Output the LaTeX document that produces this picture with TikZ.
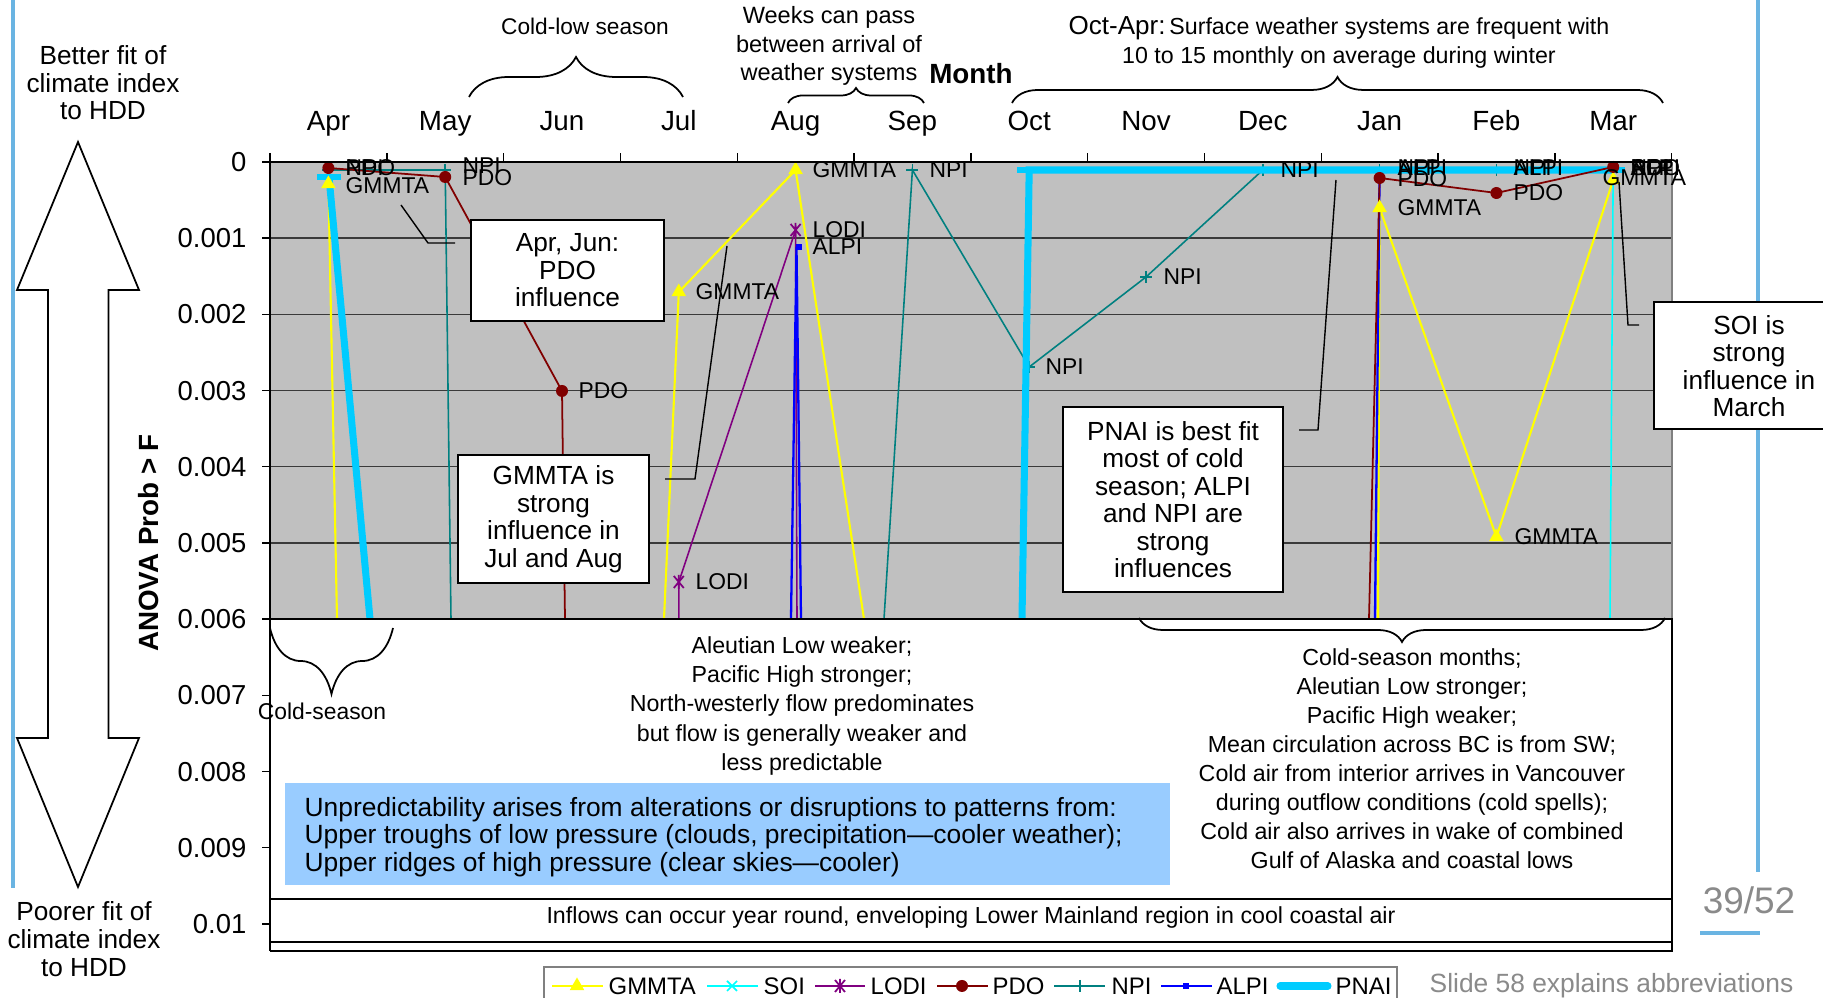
\documentclass[tikz,border=0pt]{standalone}
\usepackage{fontspec}
\setmainfont{Liberation Sans}
\usetikzlibrary{decorations.pathreplacing,shapes.geometric}
\definecolor{plotgray}{HTML}{C0C0C0}
\definecolor{gridc}{HTML}{3A3A3A}
\definecolor{gyel}{HTML}{FFFF00}
\definecolor{soic}{HTML}{00FFFF}
\definecolor{lodic}{HTML}{800080}
\definecolor{pdoc}{HTML}{800000}
\definecolor{npic}{HTML}{008080}
\definecolor{alpic}{HTML}{0000FF}
\definecolor{pnaic}{HTML}{00CCFF}
\definecolor{boxblue}{HTML}{99CCFF}
\definecolor{slideblue}{HTML}{6AB4E2}
\definecolor{greytext}{HTML}{8A8A8A}
\tikzset{
  dlab/.style={anchor=west, inner sep=0pt, font=\fontsize{6.5}{7}\selectfont},
  boxtxt/.style={draw=black, fill=white, line width=0.6pt, align=center, inner sep=0pt, font=\fontsize{7.45}{7.82}\selectfont},
  plaintxt/.style={align=center, inner sep=0pt, font=\fontsize{6.6}{8.25}\selectfont},
  monthlab/.style={anchor=base, inner sep=0pt, font=\fontsize{7.9}{9}\selectfont},
  ticklab/.style={anchor=east, inner sep=0pt, font=\fontsize{7.8}{9}\selectfont},
  leglab/.style={anchor=west, inner sep=0pt, font=\fontsize{6.8}{8}\selectfont},
  callout/.style={draw=black, line width=0.4pt},
  gline/.style={draw=gyel, line width=0.6pt},
  sline/.style={draw=soic, line width=0.45pt},
  lline/.style={draw=lodic, line width=0.45pt},
  pline/.style={draw=pdoc, line width=0.5pt},
  nline/.style={draw=npic, line width=0.45pt},
  aline/.style={draw=alpic, line width=0.65pt},
  qline/.style={draw=pnaic, line width=2pt},
  trimark/.style={regular polygon, regular polygon sides=3, fill=gyel, inner sep=0pt, minimum size=0.17cm},
  dotmark/.style={circle, fill=pdoc, inner sep=0pt, minimum size=0.12cm},
  sqmark/.style={rectangle, fill=alpic, inner sep=0pt, minimum size=0.06cm},
  plusmark/.pic={\draw[npic, line width=0.5pt] (-6,0) -- (6,0) (0,-6) -- (0,6);},
  starmark/.pic={\draw[lodic, line width=0.5pt] (-5,-6) -- (5,6) (-5,6) -- (5,-6) (0,-7) -- (0,7);},
  xmarkp/.pic={\draw[soic, line width=0.5pt] (-5,-5) -- (5,5) (-5,5) -- (5,-5);},
  bracepath/.style={draw=black, line width=0.5pt, decorate},
}
\begin{document}
\begin{tikzpicture}[x=0.01cm, y=-0.01cm]
\useasboundingbox (0,0) rectangle (1823,998);
\fill[white] (0,0) rectangle (1823,998);

% slide decorations
\draw[slideblue, line width=1.2pt] (13,0) -- (13,888);
\draw[slideblue, line width=1.2pt] (1758,0) -- (1758,872);
\draw[slideblue, line width=1.2pt] (1700,933) -- (1760,933);

% plot area
\fill[plotgray] (270,162) rectangle (1672,619);
\foreach \k in {1,...,5} \draw[gridc, line width=0.4pt] (262,{162+76.2*\k}) -- (1672,{162+76.2*\k});
\draw[gray, line width=0.5pt] (1672,162) -- (1672,619);

% ---------- data coordinates ----------
% GMMTA
\coordinate (gAp) at (328.4,184);
\coordinate (gMy) at (337,619);
\coordinate (gJn) at (664,619);
\coordinate (gJl) at (678.8,292);
\coordinate (gAu) at (795.6,170);
\coordinate (gSe) at (864,619);
\coordinate (gDe) at (1378,619);
\coordinate (gJa) at (1379.6,208);
\coordinate (gFe) at (1496.4,537);
\coordinate (gMa) at (1613.2,180);
% PDO
\coordinate (pAp) at (328.4,168);
\coordinate (pMy) at (445.2,177);
\coordinate (pJn) at (562,391);
\coordinate (pJl) at (565,619);
\coordinate (pDe) at (1369,619);
\coordinate (pJa) at (1379.6,178);
\coordinate (pFe) at (1496.4,193);
\coordinate (pMa) at (1613.2,167);
% NPI
\coordinate (nAp) at (328.4,170);
\coordinate (nMy) at (445.2,170);
\coordinate (nJn) at (451,619);
\coordinate (nAu) at (884,619);
\coordinate (nSe) at (912.4,170);
\coordinate (nOc) at (1029.2,367);
\coordinate (nNo) at (1146,277);
\coordinate (nDe) at (1262.8,170);
\coordinate (nJa) at (1379.6,170);
\coordinate (nFe) at (1496.4,170);
\coordinate (nMa) at (1613.2,170);
% LODI
\coordinate (lJn) at (678.8,619);
\coordinate (lJl) at (678.8,582);
\coordinate (lAu) at (795.6,230);
\coordinate (lSe) at (797,619);
% ALPI
\coordinate (aJl) at (791,619);
\coordinate (aAu) at (796.5,247);
\coordinate (aSe) at (801,619);
\coordinate (aDe) at (1375,619);
\coordinate (aJa) at (1379.6,172);
\coordinate (aFe) at (1496.4,170);
\coordinate (aMa) at (1613.2,170);
% SOI
\coordinate (sFe) at (1610,619);
\coordinate (sMa) at (1613.2,170);
% PNAI
\coordinate (qAp) at (329,177);
\coordinate (qMy) at (370,619);
\coordinate (qSe) at (1022,619);
\coordinate (qOc) at (1029.2,170);
\coordinate (qMa) at (1613.2,170);

% ---------- series ----------
\draw[gline] (gAp) -- (gMy);
\draw[gline] (gJn) -- (gJl) -- (gAu) -- (gSe);
\draw[gline] (gDe) -- (gJa) -- (gFe) -- (gMa);
\draw[sline] (sFe) -- (sMa);
\draw[lline] (lJn) -- (lJl) -- (lAu) -- (lSe);
\draw[nline] (nAp) -- (nMy) -- (nJn);
\draw[nline] (nAu) -- (nSe) -- (nOc) -- (nNo) -- (nDe) -- (nJa) -- (nFe) -- (nMa);
\foreach \p in {nAp,nMy,nSe,nOc,nNo,nDe,nJa,nFe,nMa} \pic at (\p) {plusmark};
\draw[aline] (aJl) -- (aAu) -- (aSe);
\draw[aline] (aDe) -- (aJa) -- (aFe) -- (aMa);
\draw[qline] (qAp) -- (qMy);
\draw[qline] (qSe) -- (qOc) -- (qMa);
\draw[pnaic, line width=1.7pt] (317,177) -- (341,177);
\draw[pnaic, line width=1.7pt] (1017,170) -- (1041,170);
\draw[pnaic, line width=1.7pt] (1601,170) -- (1625,170);
\draw[pline] (pAp) -- (pMy) -- (pJn) -- (pJl);
\draw[pline] (pDe) -- (pJa) -- (pFe) -- (pMa);

% markers
\node[trimark] (tAp) at (gAp) {};
\node[trimark] (tJl) at (gJl) {};
\node[trimark] (tAu) at (gAu) {};
\node[trimark] (tJa) at (gJa) {};
\node[trimark] (tFe) at (gFe) {};
\node[trimark] (tMa) at (gMa) {};
\node[dotmark] (dAp) at (pAp) {};
\node[dotmark] (dMy) at (pMy) {};
\node[dotmark] (dJn) at (pJn) {};
\node[dotmark] (dJa) at (pJa) {};
\node[dotmark] (dFe) at (pFe) {};
\node[dotmark] (dMa) at (pMa) {};
\pic at (lJl) {starmark};
\pic at (lAu) {starmark};
\node[sqmark] (sqAu) at (799,247) {};

% data labels
\node[dlab] (lb1) at (345,168) {NPI};
\node[dlab] (lb2) at (345,168) {PDO};
\node[dlab] (lb3) at (345,186) {GMMTA};
\node[dlab] (lb4) at (462,166) {NPI};
\node[dlab] (lb5) at (462,178) {PDO};
\node[dlab] (lb6) at (578,391) {PDO};
\node[dlab] (lb7) at (695,292) {GMMTA};
\node[dlab] (lb8) at (695,582) {LODI};
\node[dlab] (lb9) at (812,170) {GMMTA};
\node[dlab] (lb10) at (812,230) {LODI};
\node[dlab] (lb11) at (812,247) {ALPI};
\node[dlab] (lb12) at (929,170) {NPI};
\node[dlab] (lb13) at (1045,367) {NPI};
\node[dlab] (lb14) at (1163,277) {NPI};
\node[dlab] (lb15) at (1280,170) {NPI};
\node[dlab] (lb16) at (1397,168) {NPI};
\node[dlab] (lb17) at (1397,168) {ALPI};
\node[dlab] (lb18) at (1397,179) {PDO};
\node[dlab] (lb19) at (1397,208) {GMMTA};
\node[dlab] (lb20) at (1513,168) {NPI};
\node[dlab] (lb21) at (1513,168) {ALPI};
\node[dlab] (lb22) at (1513,193) {PDO};
\node[dlab] (lb23) at (1514,537) {GMMTA};
\node[dlab] (lb24) at (1630,168) {NPI};
\node[dlab] (lb25) at (1630,168) {SOI};
\node[dlab] (lb26) at (1630,168) {PDO};
\node[dlab] (lb27) at (1630,168) {ALPI};
\node[dlab] (lb28) at (1602,178) {GMMTA};

% callout boxes
\coordinate (c1a) at (455,243); \coordinate (c1b) at (428,243); \coordinate (c1c) at (401,205);
\draw[callout] (c1a) -- (c1b) -- (c1c);
\node[boxtxt, minimum width=1.93cm, minimum height=1.01cm] (boxpdo) at (567.5,270.5) {Apr, Jun:\\PDO\\influence};
\coordinate (c2a) at (665,479); \coordinate (c2b) at (695,479); \coordinate (c2c) at (727,246);
\draw[callout] (c2a) -- (c2b) -- (c2c);
\node[boxtxt, minimum width=1.91cm, minimum height=1.28cm] (boxgm) at (553.5,519) {GMMTA is\\strong\\influence in\\Jul and Aug};
\coordinate (c3a) at (1299,430); \coordinate (c3b) at (1318,430); \coordinate (c3c) at (1336,180);
\draw[callout] (c3a) -- (c3b) -- (c3c);
\node[boxtxt, minimum width=2.2cm, minimum height=1.85cm] (boxpn) at (1173,499.5) {PNAI is best fit\\most of cold\\season; ALPI\\and NPI are\\strong\\influences};
\coordinate (c4a) at (1639,325); \coordinate (c4b) at (1628,325); \coordinate (c4c) at (1619,182);
\draw[callout] (c4a) -- (c4b) -- (c4c);
\fill[white] (1654,302) rectangle (1823,429);
\draw[black, line width=0.6pt] (1823,302) -- (1654,302) -- (1654,429) -- (1823,429);
\node[align=center, inner sep=0pt, font=\fontsize{7.45}{7.82}\selectfont] (boxsoi) at (1749,366) {SOI is\\strong\\influence in\\March};

% lower region frame
\draw[black, line width=0.8pt] (270,619) -- (1672,619) -- (1672,951) -- (270,951);
\draw[black, line width=0.5pt] (270,899) -- (1672,899);
\draw[black, line width=0.5pt] (270,942) -- (1672,942);

% axes
\draw[black, line width=0.5pt] (262,162) -- (1672,162);
\draw[black, line width=0.5pt] (270,153) -- (270,951);
\foreach \i in {0,...,12} \draw[black, line width=0.4pt] ({270+116.8*\i},162) -- ({270+116.8*\i},153);
\foreach \k in {0,...,10} \draw[black, line width=0.4pt] (262,{162+76.2*\k}) -- (270,{162+76.2*\k});

% tick labels
\node[ticklab] (y0) at (247,162) {0};
\node[ticklab] (y1) at (247,238.2) {0.001};
\node[ticklab] (y2) at (247,314.4) {0.002};
\node[ticklab] (y3) at (247,390.6) {0.003};
\node[ticklab] (y4) at (247,466.8) {0.004};
\node[ticklab] (y5) at (247,543) {0.005};
\node[ticklab] (y6) at (247,619.2) {0.006};
\node[ticklab] (y7) at (247,695.4) {0.007};
\node[ticklab] (y8) at (247,771.6) {0.008};
\node[ticklab] (y9) at (247,847.8) {0.009};
\node[ticklab] (y10) at (247,924) {0.01};

% month labels
\node[monthlab] (mApr) at (328.4,131) {Apr};
\node[monthlab] (mMay) at (445.2,131) {May};
\node[monthlab] (mJun) at (562,131) {Jun};
\node[monthlab] (mJul) at (678.8,131) {Jul};
\node[monthlab] (mAug) at (795.6,131) {Aug};
\node[monthlab] (mSep) at (912.4,131) {Sep};
\node[monthlab] (mOct) at (1029.2,131) {Oct};
\node[monthlab] (mNov) at (1146,131) {Nov};
\node[monthlab] (mDec) at (1262.8,131) {Dec};
\node[monthlab] (mJan) at (1379.6,131) {Jan};
\node[monthlab] (mFeb) at (1496.4,131) {Feb};
\node[monthlab] (mMar) at (1613.2,131) {Mar};
\node[inner sep=0pt, font=\bfseries\fontsize{7.9}{9}\selectfont] (month) at (971,74) {Month};

% top braces and texts
\draw[bracepath, decoration={brace, amplitude=0.4cm}] (469,97) -- (683,97);
\node[plaintxt, font=\fontsize{6.45}{8}\selectfont] (coldlow) at (585,26) {Cold-low season};
\draw[bracepath, decoration={brace, amplitude=0.15cm}] (788,103) -- (924,103);
\node[plaintxt, font=\fontsize{6.7}{8.2}\selectfont] (weeks) at (829,46) {Weeks can pass\\between arrival of\\weather systems};
\draw[bracepath, decoration={brace, amplitude=0.26cm}] (1012,103) -- (1663,103);
\node[plaintxt, font=\fontsize{6.6}{8.2}\selectfont] (octapr) at (1339,42) {{\fontsize{7.4}{8.2}\selectfont Oct-Apr:}\,Surface weather systems are frequent with\\10 to 15 monthly on average during winter};

% left side arrow and texts
\draw[black, fill=white, line width=0.5pt] (78,142) -- (139,290) -- (108.5,290) -- (108.5,738) -- (139,738) -- (78,887) -- (17,738) -- (48,738) -- (48,290) -- (17,290) -- cycle;
\node[align=center, inner sep=0pt, font=\fontsize{7.45}{7.85}\selectfont] (better) at (103,83) {Better fit of\\climate index\\to HDD};
\node[align=center, inner sep=0pt, font=\fontsize{7.45}{7.95}\selectfont] (poorer) at (84,939) {Poorer fit of\\climate index\\to HDD};
\node[rotate=90, inner sep=0pt, font=\bfseries\fontsize{7.9}{9}\selectfont] (anova) at (149,543) {ANOVA Prob > F};

% lower region content
\draw[bracepath, decoration={brace, amplitude=0.66cm}] (393,628) -- (270,628);
\node[plaintxt, font=\fontsize{6.5}{8}\selectfont] (coldseason) at (322,711) {Cold-season};
\node[plaintxt] (summer) at (802,706) {Aleutian Low weaker;\\Pacific High stronger;\\North-westerly flow predominates\\but flow is generally weaker and\\less predictable};
\draw[bracepath, decoration={brace, amplitude=0.24cm}] (1665,618) -- (1139,618);
\node[plaintxt] (winter) at (1412,759) {Cold-season months;\\Aleutian Low stronger;\\Pacific High weaker;\\Mean circulation across BC is from SW;\\Cold air from interior arrives in Vancouver\\during outflow conditions (cold spells);\\Cold air also arrives in wake of combined\\Gulf of Alaska and coastal lows};
\fill[boxblue] (285,783) rectangle (1170,885);
\node[anchor=west, align=left, inner sep=0pt, font=\fontsize{7.5}{7.85}\selectfont] (unpred) at (304,837) {Unpredictability arises from alterations or disruptions to patterns from:\\Upper troughs of low pressure (clouds, precipitation\textemdash cooler weather);\\Upper ridges of high pressure (clear skies\textemdash cooler)};
\node[plaintxt] (inflows) at (971,918) {Inflows can occur year round, enveloping Lower Mainland region in cool coastal air};

% legend
\draw[gray, line width=0.5pt] (544,1000) -- (544,967) -- (1397,967) -- (1397,1000);
\draw[gline] (552,986) -- (603,986);
\node[trimark] (lgt) at (577,986) {};
\node[leglab] (lg1) at (608,986) {GMMTA};
\draw[sline] (707,986) -- (758,986);
\pic at (732,986) {xmarkp};
\node[leglab] (lg2) at (763,986) {SOI};
\draw[lline] (815,986) -- (865,986);
\pic at (840,986) {starmark};
\node[leglab] (lg3) at (870,986) {LODI};
\draw[pline] (937,986) -- (988,986);
\node[dotmark] (lgd) at (962,986) {};
\node[leglab] (lg4) at (992,986) {PDO};
\draw[nline] (1054,986) -- (1105,986);
\pic at (1080,986) {plusmark};
\node[leglab] (lg5) at (1111,986) {NPI};
\draw[aline] (1161,986) -- (1212,986);
\node[sqmark] (lgs) at (1186,986) {};
\node[leglab] (lg6) at (1216,986) {ALPI};
\draw[pnaic, line width=2pt, line cap=round] (1280,986) -- (1328,986);
\node[leglab] (lg7) at (1335,986) {PNAI};

\node[anchor=west, inner sep=0pt, text=greytext, font=\fontsize{7.5}{9}\selectfont] (slide58) at (1429,986) {Slide 58 explains abbreviations};
\node[inner sep=0pt, text=greytext, font=\fontsize{10.5}{12}\selectfont] (pagenum) at (1749,900) {39/52};
\end{tikzpicture}
\end{document}
